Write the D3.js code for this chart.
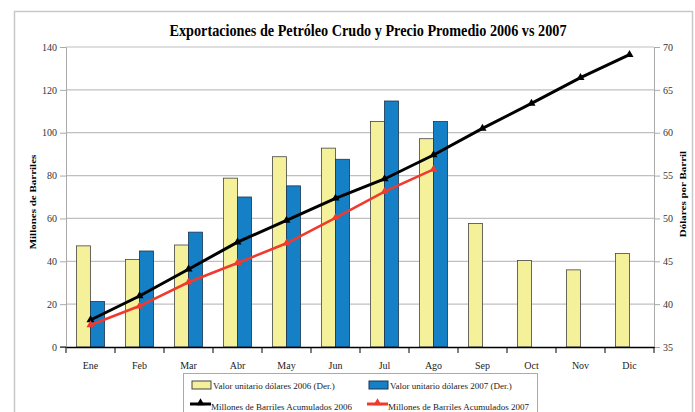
<!DOCTYPE html>
<html>
<head>
<meta charset="utf-8">
<script src="https://cdn.jsdelivr.net/npm/d3@7"></script>
<style>
  body { margin: 0; background: #fff; }
  svg text { font-family: "Liberation Serif", "Times New Roman", serif; }
</style>
</head>
<body>
<div class="chart"></div>
<script>
var months = ['Ene', 'Feb', 'Mar', 'Abr', 'May', 'Jun', 'Jul', 'Ago', 'Sep', 'Oct', 'Nov', 'Dic'];
// precio (eje derecho)
var precio2006 = [46.8, 45.2, 46.9, 54.7, 57.2, 58.2, 61.3, 59.3, 49.4, 45.1, 44.0, 45.9];
var precio2007 = [40.3, 46.2, 48.4, 52.5, 53.8, 56.9, 63.7, 61.3];
// barriles acumulados (eje izquierdo)
var barriles2006 = [12.6, 23.8, 36.3, 48.9, 59.1, 69.4, 78.4, 89.6, 102.0, 113.7, 125.7, 136.4];
var barriles2007 = [10.3, 19.1, 30.2, 39.2, 48.4, 60.3, 72.5, 82.9];
var leftTicks = [0, 20, 40, 60, 80, 100, 120, 140];
var rightTicks = [35, 40, 45, 50, 55, 60, 65, 70];

var W = 695, H = 412;
var margin = { top: 47, right: 41, bottom: 65, left: 66 };
var width = W - margin.left - margin.right;
var height = H - margin.top - margin.bottom;
var serif = '"Liberation Serif", "Times New Roman", serif';

var svg = d3.select('.chart')
  .append('svg')
  .attr('width', W)
  .attr('height', H);

// outer frame
svg.append('rect')
  .attr('x', 14.5).attr('y', 11.5)
  .attr('width', 678).attr('height', 420)
  .style('fill', 'none')
  .style('stroke', '#c8c8c8')
  .style('stroke-width', 1.5);

svg.append('text')
  .attr('x', 368).attr('y', 36)
  .style('text-anchor', 'middle')
  .style('font-weight', 'bold')
  .style('font-size', '17px')
  .attr('textLength', 397)
  .attr('lengthAdjust', 'spacingAndGlyphs')
  .text('Exportaciones de Petróleo Crudo y Precio Promedio 2006 vs 2007');

var g = svg.append('g')
  .attr('transform', `translate(${margin.left}, ${margin.top})`);

var x = d3.scaleBand().domain(months).range([0, width]);
var yL = d3.scaleLinear().domain([0, 140]).range([height, 0]);
var yR = d3.scaleLinear().domain([35, 70]).range([height, 0]);

// gridlines
g.selectAll('.grid')
  .data(leftTicks.slice(1))
  .enter()
  .append('line')
  .attr('class', 'grid')
  .attr('x1', 0).attr('x2', width)
  .attr('y1', d => yL(d)).attr('y2', d => yL(d))
  .style('stroke', '#c0c0c0')
  .style('stroke-width', 1.2);

function styleAxis(ax) {
  ax.attr('font-family', serif);
  ax.selectAll('line, path').style('stroke', '#aaa');
  ax.selectAll('text').style('font-size', '10px').style('fill', '#333');
}

// left axis
var axL = g.append('g')
  .call(d3.axisLeft(yL).tickValues(leftTicks).tickSize(6).tickPadding(3));
styleAxis(axL);

// right axis
var axR = g.append('g')
  .attr('transform', `translate(${width}, 0)`)
  .call(d3.axisRight(yR).tickValues(rightTicks).tickSize(6).tickPadding(3));
styleAxis(axR);

// bars
var bw = 14;
g.selectAll('.bar06')
  .data(precio2006)
  .enter()
  .append('rect')
  .attr('class', 'bar06')
  .attr('x', (d, i) => x(months[i]) + x.bandwidth() / 2 - bw)
  .attr('y', d => yR(d))
  .attr('width', bw)
  .attr('height', d => height - yR(d))
  .style('fill', '#f5f19a')
  .style('stroke', '#444')
  .style('stroke-width', 0.8);

g.selectAll('.bar07')
  .data(precio2007)
  .enter()
  .append('rect')
  .attr('class', 'bar07')
  .attr('x', (d, i) => x(months[i]) + x.bandwidth() / 2)
  .attr('y', d => yR(d))
  .attr('width', bw)
  .attr('height', d => height - yR(d))
  .style('fill', '#1580c6')
  .style('stroke', '#1a3550')
  .style('stroke-width', 0.8);

// bottom axis
var axB = g.append('g')
  .attr('transform', `translate(0, ${height})`)
  .call(d3.axisBottom(x).tickSize(0).tickPadding(15));
axB.attr('font-family', serif);
axB.select('path').style('stroke', '#000').style('stroke-width', 1.5);
axB.selectAll('text').style('font-size', '10px').style('fill', '#222');
g.selectAll('.xtick')
  .data(d3.range(months.length + 1))
  .enter()
  .append('line')
  .attr('class', 'xtick')
  .attr('x1', d => d * x.step()).attr('x2', d => d * x.step())
  .attr('y1', height).attr('y2', height + 6)
  .style('stroke', '#000');
g.append('line')
  .attr('x1', -6).attr('x2', 0)
  .attr('y1', height).attr('y2', height)
  .style('stroke', '#000');

// lines
var line = d3.line()
  .x((d, i) => x(months[i]) + x.bandwidth() / 2)
  .y(d => yL(d));

var tri = d3.symbol().type(d3.symbolTriangle).size(28);

function drawSeries(data, color, cls, w) {
  g.append('path')
    .attr('d', line(data))
    .style('fill', 'none')
    .style('stroke', color)
    .style('stroke-width', w);
  g.selectAll('.' + cls)
    .data(data)
    .enter()
    .append('path')
    .attr('class', cls)
    .attr('d', tri)
    .attr('transform', (d, i) => `translate(${x(months[i]) + x.bandwidth() / 2}, ${yL(d)})`)
    .style('fill', color);
}
drawSeries(barriles2006, '#000', 'm06', 3);
drawSeries(barriles2007, '#f03a2e', 'm07', 2.6);

// axis titles (glyphs squeezed like the original)
svg.append('text')
  .attr('transform', 'translate(36, 202) rotate(-90) scale(1, 0.78)')
  .style('text-anchor', 'middle')
  .style('font-weight', 'bold')
  .style('font-size', '11px')
  .text('Millones de Barriles');

svg.append('text')
  .attr('transform', 'translate(686, 194) rotate(-90) scale(1, 0.78)')
  .style('text-anchor', 'middle')
  .style('font-weight', 'bold')
  .style('font-size', '11px')
  .text('Dólares por Barril');

// legend
var lg = svg.append('g');
lg.append('rect')
  .attr('x', 183.5).attr('y', 373.5)
  .attr('width', 354).attr('height', 50)
  .style('fill', '#fff')
  .style('stroke', '#aaa');

var legendItems = [
  { type: 'bar', fill: '#f5f19a', stroke: '#444', label: 'Valor unitario dólares 2006 (Der.)', x: 192, y: 385 },
  { type: 'bar', fill: '#1580c6', stroke: '#1a3550', label: 'Valor unitario dólares 2007 (Der.)', x: 369, y: 385 },
  { type: 'line', fill: '#000', label: 'Millones de Barriles Acumulados 2006', x: 190, y: 406 },
  { type: 'line', fill: '#f03a2e', label: 'Millones de Barriles Acumulados 2007', x: 367, y: 406 }
];
legendItems.forEach(it => {
  if (it.type === 'bar') {
    lg.append('rect')
      .attr('x', it.x).attr('y', it.y - 4)
      .attr('width', 19).attr('height', 8)
      .style('fill', it.fill)
      .style('stroke', it.stroke);
  } else {
    lg.append('line')
      .attr('x1', it.x).attr('x2', it.x + 21)
      .attr('y1', it.y - 2).attr('y2', it.y - 2)
      .style('stroke', it.fill)
      .style('stroke-width', 3);
    lg.append('path')
      .attr('d', tri)
      .attr('transform', `translate(${it.x + 10.5}, ${it.y - 3})`)
      .style('fill', it.fill);
  }
  lg.append('text')
    .attr('x', it.x + 21).attr('y', it.y + 3.5)
    .style('font-size', '9px')
    .style('fill', '#222')
    .text(it.label);
});
</script>
</body>
</html>
